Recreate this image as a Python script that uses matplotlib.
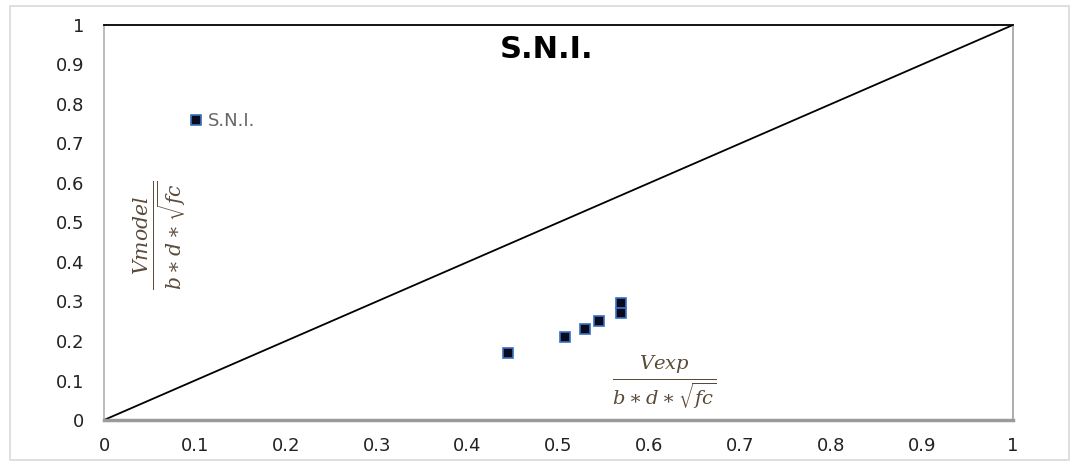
import matplotlib
matplotlib.use('Agg')
import matplotlib.pyplot as plt
from matplotlib.patches import Rectangle

# 数据
v_exp = [0.445, 0.507, 0.529, 0.545, 0.569, 0.569]
v_model = [0.17, 0.21, 0.23, 0.25, 0.296, 0.271]
line_x = [0, 1]
line_y = [0, 1]
ticks = [0, 0.1, 0.2, 0.3, 0.4, 0.5, 0.6, 0.7, 0.8, 0.9, 1]
tick_labels = ['0', '0.1', '0.2', '0.3', '0.4', '0.5', '0.6', '0.7', '0.8', '0.9', '1']

fig = plt.figure(figsize=(10.79, 4.66), dpi=100)
fig.patches.append(Rectangle((0.009, 0.012), 0.982, 0.976, transform=fig.transFigure,
                             fill=False, edgecolor='#d9d9d9', linewidth=1.2))
ax = fig.add_axes([0.0964, 0.0987, 0.8424, 0.8477])

ax.plot(line_x, line_y, color='black', linewidth=1.3)
ax.plot(v_exp, v_model, linestyle='none', marker='s', markersize=7,
        markerfacecolor='#0a0a1e', markeredgecolor='#3a6fc0', markeredgewidth=1.2,
        label='S.N.I.')

ax.set_xlim(0, 1)
ax.set_ylim(0, 1)
ax.set_xticks(ticks)
ax.set_xticklabels(tick_labels)
ax.set_yticks(ticks)
ax.set_yticklabels(tick_labels)
ax.tick_params(length=0, labelsize=13, colors='#222222', pad=12)
ax.tick_params(axis='y', pad=14)

ax.spines['top'].set_color('black')
ax.spines['top'].set_linewidth(1.3)
ax.spines['bottom'].set_color('#9a9a9a')
ax.spines['bottom'].set_linewidth(2.5)
ax.spines['right'].set_color('#a0a0a0')
ax.spines['right'].set_linewidth(1.2)
ax.spines['left'].set_color('#b0b0b0')
ax.spines['left'].set_linewidth(1.2)

# 标题
ax.text(0.487, 0.937, 'S.N.I.', transform=ax.transAxes, fontsize=22,
        fontweight='bold', ha='center', va='center')

ax.legend(loc='upper left', bbox_to_anchor=(0.075, 0.82), frameon=False,
          fontsize=13, labelcolor='#666666', handletextpad=0.3, handlelength=0.8)

ax.text(0.062, 0.468, r'$\frac{Vmodel}{b\ast d\ast\sqrt{fc}}$', transform=ax.transAxes,
        rotation=90, fontsize=21, color='#5a4a3a', ha='center', va='center',
        math_fontfamily='dejavuserif')
ax.text(0.617, 0.094, r'$\frac{Vexp}{b\ast d\ast\sqrt{fc}}$', transform=ax.transAxes,
        fontsize=20, color='#5a4a3a', ha='center', va='center',
        math_fontfamily='dejavuserif')

fig.savefig('out.png', dpi=100, facecolor='white')
